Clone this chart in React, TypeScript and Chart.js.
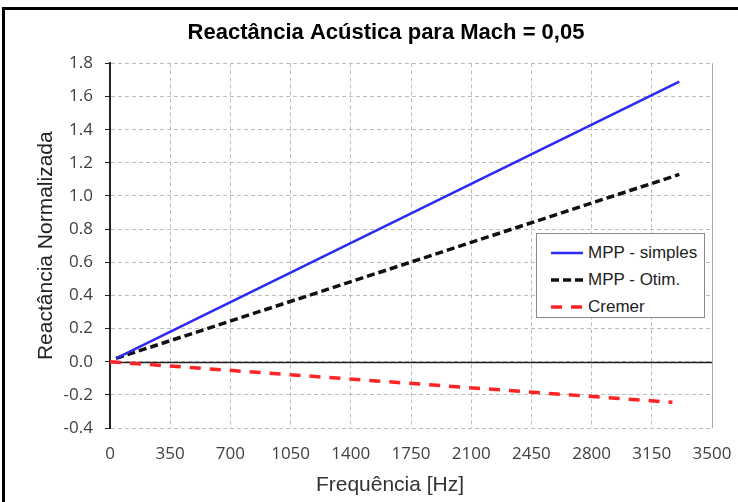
import React, { useEffect, useRef } from "react";
import { Chart, registerables } from "chart.js";

Chart.register(...registerables);

const TITLE = "Reactância Acústica para Mach = 0,05";
const X_TITLE = "Frequência [Hz]";
const Y_TITLE = "Reactância Normalizada";

const SERIES_NAMES = ["MPP - simples", "MPP - Otim.", "Cremer"];
const simplesFreq = [35, 3310];
const simplesVal = [0.02, 1.69];
const otimFreq = [35, 3310];
const otimVal = [0.02, 1.13];
const cremerFreq = [0, 3270];
const cremerVal = [0.0, -0.245];

const X_MIN = 0;
const X_MAX = 3500;
const X_STEP = 350;
const Y_MIN = -0.4;
const Y_MAX = 1.8;
const Y_STEP = 0.2;

const COLORS = ["#2a2af2", "#111111", "#ff2424"];
const DASHES: number[][] = [[], [8, 4], [11, 9]];
const WIDTHS = [2.5, 3.5, 3.5];

const pts = (xs: number[], ys: number[]) => xs.map((x, i) => ({ x, y: ys[i] }));

const TICK_FONT = "'Open Sans', 'DejaVu Sans Condensed', sans-serif";
const FONT = "'Liberation Sans', Arial, sans-serif";

const framePlugin = {
  id: "frame",
  beforeDatasetsDraw(chart: any) {
    const { ctx, chartArea } = chart;
    const ys = chart.scales.y;
    ctx.save();
    ctx.strokeStyle = "#a8a8a8";
    ctx.lineWidth = 1;
    ctx.beginPath();
    ctx.moveTo(chartArea.right + 0.5, chartArea.top);
    ctx.lineTo(chartArea.right + 0.5, chartArea.bottom);
    ctx.stroke();
    const y0 = Math.round(ys.getPixelForValue(0)) + 0.5;
    ctx.strokeStyle = "#222";
    ctx.lineWidth = 1.5;
    ctx.beginPath();
    ctx.moveTo(chartArea.left, y0);
    ctx.lineTo(chartArea.right, y0);
    ctx.stroke();
    ctx.restore();
  },
  afterDraw(chart: any) {
    const { ctx, chartArea } = chart;
    const xs = chart.scales.x;
    ctx.save();
    ctx.fillStyle = "#333";
    ctx.font = `21px ${FONT}`;
    ctx.textAlign = "center";
    ctx.textBaseline = "middle";
    const cx = (chart.width / 2 + (chartArea.left + chartArea.right) / 2) / 2;
    ctx.fillText(X_TITLE, cx, xs.bottom - 13);
    ctx.restore();
  },
};

function LegendSample({ i }: { i: number }) {
  return (
    <svg width={32} height={8} style={{ display: "block" }}>
      <line
        x1={0}
        y1={4}
        x2={32}
        y2={4}
        stroke={COLORS[i]}
        strokeWidth={WIDTHS[i]}
        strokeDasharray={DASHES[i].length ? DASHES[i].join(" ") : undefined}
      />
    </svg>
  );
}

export default function App() {
  const ref = useRef<HTMLCanvasElement | null>(null);

  useEffect(() => {
    document.body.style.margin = "0";
    const canvas = ref.current;
    if (!canvas) return;
    const data = [pts(simplesFreq, simplesVal), pts(otimFreq, otimVal), pts(cremerFreq, cremerVal)];
    const chart = new Chart(canvas, {
      type: "line",
      data: {
        datasets: data.map((d, i) => ({
          label: SERIES_NAMES[i],
          data: d,
          borderColor: COLORS[i],
          backgroundColor: COLORS[i],
          borderWidth: WIDTHS[i],
          borderDash: DASHES[i],
          pointRadius: 0,
          tension: 0,
          fill: false,
          xAxisID: "x",
          yAxisID: "y",
        })),
      },
      plugins: [framePlugin],
      options: {
        responsive: false,
        animation: false,
        layout: { padding: { left: 34, right: 0, top: 0, bottom: 4 } },
        plugins: {
          legend: { display: false },
          tooltip: { enabled: false },
          title: {
            display: true,
            text: TITLE,
            color: "#000",
            font: { family: FONT, size: 22, weight: "bold" },
            padding: { top: 20, bottom: 17 },
          },
        },
        scales: {
          x: {
            type: "linear",
            position: "bottom",
            min: X_MIN,
            max: X_MAX,
            ticks: {
              stepSize: X_STEP,
              color: "#404040",
              padding: 16,
              font: { family: TICK_FONT, size: 17 },
              maxRotation: 0,
              callback: (v: any) => String(v),
            },
            grid: { color: "#bdbdbd", drawTicks: false, lineWidth: 1 },
            border: { display: false, dash: [4, 3] },
            title: { display: false },
            afterFit: (s: any) => {
              s.height = 70;
              s.paddingRight = 0;
              s.paddingLeft = 0;
            },
          },
          y: {
            type: "linear",
            position: "left",
            min: Y_MIN,
            max: Y_MAX,
            ticks: {
              stepSize: Y_STEP,
              color: "#404040",
              padding: 12,
              font: { family: TICK_FONT, size: 17 },
              callback: (v: any) => Number(v).toFixed(1),
            },
            grid: { color: "#bdbdbd", tickColor: "#222", tickLength: 5, lineWidth: 1 },
            border: { display: true, color: "#222", width: 2, dash: [4, 3] },
            title: {
              display: true,
              text: Y_TITLE,
              color: "#222",
              font: { family: FONT, size: 21 },
              padding: { top: 0, bottom: 0 },
            },
            afterFit: (s: any) => {
              s.width = 76;
            },
          },
          yr: {
            type: "linear",
            position: "right",
            display: true,
            ticks: { display: false },
            grid: { display: false, drawTicks: false },
            border: { display: false },
            afterFit: (s: any) => {
              s.width = 26;
            },
          },
        },
      },
    } as any);
    return () => chart.destroy();
  }, []);

  return (
    <div style={{ position: "relative", width: 738, height: 502, overflow: "hidden", background: "#fff" }}>
      <canvas ref={ref} width={738} height={502} style={{ position: "absolute", left: 0, top: 0, display: "block" }} />
      <div
        style={{
          position: "absolute",
          left: 2,
          top: 7,
          width: 780,
          height: 540,
          border: "3px solid #000",
          pointerEvents: "none",
        }}
      />
      <div
        style={{
          position: "absolute",
          left: 536,
          top: 233,
          width: 167,
          height: 83,
          border: "1px solid #8a8a8a",
          background: "#fff",
          fontFamily: FONT,
          fontSize: 17,
          color: "#222",
          boxSizing: "content-box",
        }}
      >
        {SERIES_NAMES.map((n, i) => (
          <div
            key={n}
            style={{ position: "absolute", left: 14, top: 8 + i * 27, display: "flex", alignItems: "center", height: 22 }}
          >
            <LegendSample i={i} />
            <span style={{ marginLeft: 5, whiteSpace: "nowrap" }}>{n}</span>
          </div>
        ))}
      </div>
    </div>
  );
}
